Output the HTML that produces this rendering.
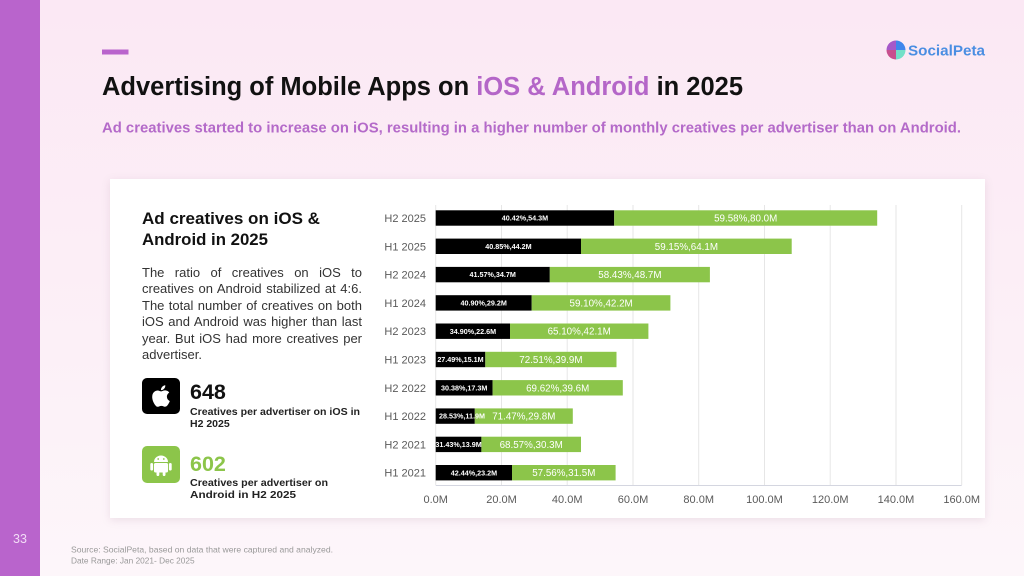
<!DOCTYPE html>
<html><head><meta charset="utf-8"><style>
html,body{margin:0;padding:0;width:1024px;height:576px;overflow:hidden;}
body{position:relative;background:linear-gradient(180deg,#fbe8f4 0%,#fcf0f7 60%,#fdf6fa 100%);font-family:"Liberation Sans",Arial,sans-serif;}
.strip{position:absolute;left:0;top:0;width:40px;height:576px;background:#b964cc;}
.card{position:absolute;left:110px;top:179px;width:875px;height:339px;background:#fff;box-shadow:0 2px 8px rgba(160,120,150,0.18);}
.para{position:absolute;left:142px;top:265px;width:220px;font-size:13px;line-height:16.4px;color:#333;}
.para div{text-align:justify;text-align-last:justify;white-space:nowrap;}
.para div.last{text-align-last:left;}
svg{position:absolute;left:0;top:0;}
</style></head><body>
<div class="strip"></div>
<div class="card"></div>
<svg width="1024" height="576" viewBox="0 0 1024 576" font-family="Liberation Sans, Arial, sans-serif">
  <!-- page number -->
  <text x="20" y="543" font-size="12.5" fill="#f3dcf7" text-anchor="middle">33</text>
  <!-- accent bar -->
  <rect x="102" y="49.5" width="26.5" height="5" fill="#b964cc"/>
  <!-- title -->
  <text x="102" y="95" font-size="25.5" font-weight="bold" fill="#111" textLength="641" lengthAdjust="spacingAndGlyphs">Advertising of Mobile Apps on <tspan fill="#b466c8">iOS &amp; Android</tspan> in 2025</text>
  <text x="102" y="132.5" font-size="14.3" font-weight="bold" fill="#b46ac9" textLength="859" lengthAdjust="spacingAndGlyphs">Ad creatives started to increase on iOS, resulting in a higher number of monthly creatives per advertiser than on Android.</text>
  <!-- logo -->
  <g transform="translate(896,50)">
    <path d="M0,0 L-9.5,0 A9.5,9.5 0 0 1 0,-9.5 Z" fill="#a658c9"/>
    <path d="M0,0 L0,-9.5 A9.5,9.5 0 0 1 9.5,0 Z" fill="#3f86ec"/>
    <path d="M0,0 L0,9.5 A9.5,9.5 0 0 1 -9.5,0 Z" fill="#c8508e"/>
    <path d="M0,0 L9.5,0 A9.5,9.5 0 0 1 0,9.5 Z" fill="#73e0c8"/>
  </g>
  <text x="908" y="55.5" font-size="15" font-weight="bold" fill="#4a8ee2" textLength="77" lengthAdjust="spacingAndGlyphs">SocialPeta</text>

  <!-- card left -->
  <text x="142" y="224" font-size="17" font-weight="bold" fill="#111" textLength="178" lengthAdjust="spacingAndGlyphs">Ad creatives on iOS &amp;</text>
  <text x="142" y="245" font-size="17" font-weight="bold" fill="#111" textLength="126" lengthAdjust="spacingAndGlyphs">Android in 2025</text>

  <rect x="142" y="378" width="38" height="36" rx="5" fill="#000"/>
  <path transform="translate(150.2,385.2) scale(0.9)" fill="#fff" d="M12.152 6.896c-.948 0-2.415-1.078-3.96-1.04-2.04.027-3.91 1.183-4.961 3.014-2.117 3.675-.546 9.103 1.519 12.09 1.013 1.454 2.208 3.09 3.792 3.039 1.52-.065 2.09-.987 3.935-.987 1.831 0 2.350.987 3.960.948 1.637-.026 2.676-1.480 3.676-2.948 1.156-1.688 1.636-3.325 1.662-3.415-.039-.013-3.182-1.221-3.220-4.857-.026-3.040 2.480-4.494 2.597-4.559-1.429-2.090-3.623-2.324-4.390-2.376-2-.156-3.675 1.090-4.610 1.090zM15.530 3.830c.843-1.012 1.400-2.427 1.245-3.830-1.207.052-2.662.805-3.532 1.818-.780.896-1.454 2.338-1.273 3.714 1.338.104 2.715-.688 3.559-1.701"/>
  <text x="190" y="399" font-size="21.5" font-weight="bold" fill="#111">648</text>
  <text x="190" y="415" font-size="10.5" font-weight="bold" fill="#222" textLength="170" lengthAdjust="spacingAndGlyphs">Creatives per advertiser on iOS in</text>
  <text x="190" y="427" font-size="10.5" font-weight="bold" fill="#222">H2 2025</text>

  <rect x="142" y="446" width="38" height="37" rx="5" fill="#8cc54a"/>
  <g fill="#fff">
    <path d="M154,462 A7,6.5 0 0 1 168,462 Z"/>
    <rect x="154" y="463" width="14" height="9.5" rx="1.5"/>
    <rect x="150.3" y="463" width="2.8" height="7.5" rx="1.4"/>
    <rect x="168.9" y="463" width="2.8" height="7.5" rx="1.4"/>
    <rect x="156.5" y="470" width="2.8" height="6" rx="1.4"/>
    <rect x="162.7" y="470" width="2.8" height="6" rx="1.4"/>
  </g>
  <circle cx="158.2" cy="459" r="0.9" fill="#8cc54a"/>
  <circle cx="163.8" cy="459" r="0.9" fill="#8cc54a"/>
  <text x="190" y="471" font-size="21.5" font-weight="bold" fill="#8cc54a">602</text>
  <text x="190" y="486" font-size="10.5" font-weight="bold" fill="#222" textLength="138" lengthAdjust="spacingAndGlyphs">Creatives per advertiser on</text>
  <text x="190" y="498" font-size="10.5" font-weight="bold" fill="#222" textLength="106" lengthAdjust="spacingAndGlyphs">Android in H2 2025</text>

  <!-- chart grid -->
  <g stroke="#e6e6e6" stroke-width="1">
    <line x1="501.5" y1="205" x2="501.5" y2="485"/>
    <line x1="567.2" y1="205" x2="567.2" y2="485"/>
    <line x1="633" y1="205" x2="633" y2="485"/>
    <line x1="698.7" y1="205" x2="698.7" y2="485"/>
    <line x1="764.5" y1="205" x2="764.5" y2="485"/>
    <line x1="830.2" y1="205" x2="830.2" y2="485"/>
    <line x1="896" y1="205" x2="896" y2="485"/>
    <line x1="961.7" y1="205" x2="961.7" y2="485"/>
    <line x1="435.7" y1="205" x2="435.7" y2="485"/>
  </g>
  <line x1="435.7" y1="485.5" x2="961.7" y2="485.5" stroke="#d4d6e0" stroke-width="1"/>
  <g font-size="11" fill="#5a5a5a" text-anchor="middle">
    <text x="435.7" y="503">0.0M</text>
    <text x="501.5" y="503">20.0M</text>
    <text x="567.2" y="503">40.0M</text>
    <text x="633" y="503">60.0M</text>
    <text x="698.7" y="503">80.0M</text>
    <text x="764.5" y="503">100.0M</text>
    <text x="830.2" y="503">120.0M</text>
    <text x="896" y="503">140.0M</text>
    <text x="961.7" y="503">160.0M</text>
  </g>
  <g font-size="11" fill="#5a5a5a" text-anchor="end">
    <text x="426" y="222">H2 2025</text>
    <text x="426" y="250.3">H1 2025</text>
    <text x="426" y="278.6">H2 2024</text>
    <text x="426" y="306.9">H1 2024</text>
    <text x="426" y="335.2">H2 2023</text>
    <text x="426" y="363.5">H1 2023</text>
    <text x="426" y="391.8">H2 2022</text>
    <text x="426" y="420.1">H1 2022</text>
    <text x="426" y="448.4">H2 2021</text>
    <text x="426" y="476.7">H1 2021</text>
  </g>
  <!-- bars -->
  <g fill="#000">
    <rect x="435.7" y="210.3" width="178.5" height="15.4"/>
    <rect x="435.7" y="238.6" width="145.3" height="15.4"/>
    <rect x="435.7" y="266.9" width="114.1" height="15.4"/>
    <rect x="435.7" y="295.2" width="96.0" height="15.4"/>
    <rect x="435.7" y="323.5" width="74.3" height="15.4"/>
    <rect x="435.7" y="351.8" width="49.6" height="15.4"/>
    <rect x="435.7" y="380.1" width="56.9" height="15.4"/>
    <rect x="435.7" y="408.4" width="39.1" height="15.4"/>
    <rect x="435.7" y="436.7" width="45.7" height="15.4"/>
    <rect x="435.7" y="465.0" width="76.3" height="15.4"/>
  </g>
  <g fill="#8cc54a">
    <rect x="614.2" y="210.3" width="263" height="15.4"/>
    <rect x="581.0" y="238.6" width="210.7" height="15.4"/>
    <rect x="549.8" y="266.9" width="160.1" height="15.4"/>
    <rect x="531.7" y="295.2" width="138.7" height="15.4"/>
    <rect x="510.0" y="323.5" width="138.4" height="15.4"/>
    <rect x="485.3" y="351.8" width="131.2" height="15.4"/>
    <rect x="492.6" y="380.1" width="130.2" height="15.4"/>
    <rect x="474.8" y="408.4" width="98.0" height="15.4"/>
    <rect x="481.4" y="436.7" width="99.6" height="15.4"/>
    <rect x="512.0" y="465.0" width="103.6" height="15.4"/>
  </g>
  <g font-size="7.2" font-weight="bold" fill="#fff" text-anchor="middle">
    <text x="524.9" y="220.6">40.42%,54.3M</text>
    <text x="508.4" y="248.9">40.85%,44.2M</text>
    <text x="492.7" y="277.2">41.57%,34.7M</text>
    <text x="483.7" y="305.5">40.90%,29.2M</text>
    <text x="472.9" y="333.8">34.90%,22.6M</text>
    <text x="460.5" y="362.1">27.49%,15.1M</text>
    <text x="464.2" y="390.4">30.38%,17.3M</text>
    <text x="462" y="418.7">28.53%,11.9M</text>
    <text x="458.6" y="447">31.43%,13.9M</text>
    <text x="473.9" y="475.3">42.44%,23.2M</text>
  </g>
  <g font-size="9.8" fill="#fff" text-anchor="middle">
    <text x="745.7" y="221.5">59.58%,80.0M</text>
    <text x="686.4" y="249.8">59.15%,64.1M</text>
    <text x="629.9" y="278.1">58.43%,48.7M</text>
    <text x="601.1" y="306.4">59.10%,42.2M</text>
    <text x="579.2" y="334.7">65.10%,42.1M</text>
    <text x="550.9" y="363">72.51%,39.9M</text>
    <text x="557.7" y="391.3">69.62%,39.6M</text>
    <text x="523.8" y="419.6">71.47%,29.8M</text>
    <text x="531.2" y="447.9">68.57%,30.3M</text>
    <text x="563.8" y="476.2">57.56%,31.5M</text>
  </g>

  <!-- footer -->
  <text x="71" y="552.5" font-size="8.3" fill="#999" textLength="262" lengthAdjust="spacingAndGlyphs">Source: SocialPeta, based on data that were captured and analyzed.</text>
  <text x="71" y="563.5" font-size="8.3" fill="#999">Date Range: Jan 2021- Dec 2025</text>
</svg>
<div class="para">
  <div>The ratio of creatives on iOS to</div>
  <div>creatives on Android stabilized at 4:6.</div>
  <div>The total number of creatives on both</div>
  <div>iOS and Android was higher than last</div>
  <div>year. But iOS had more creatives per</div>
  <div class="last">advertiser.</div>
</div>
</body></html>
